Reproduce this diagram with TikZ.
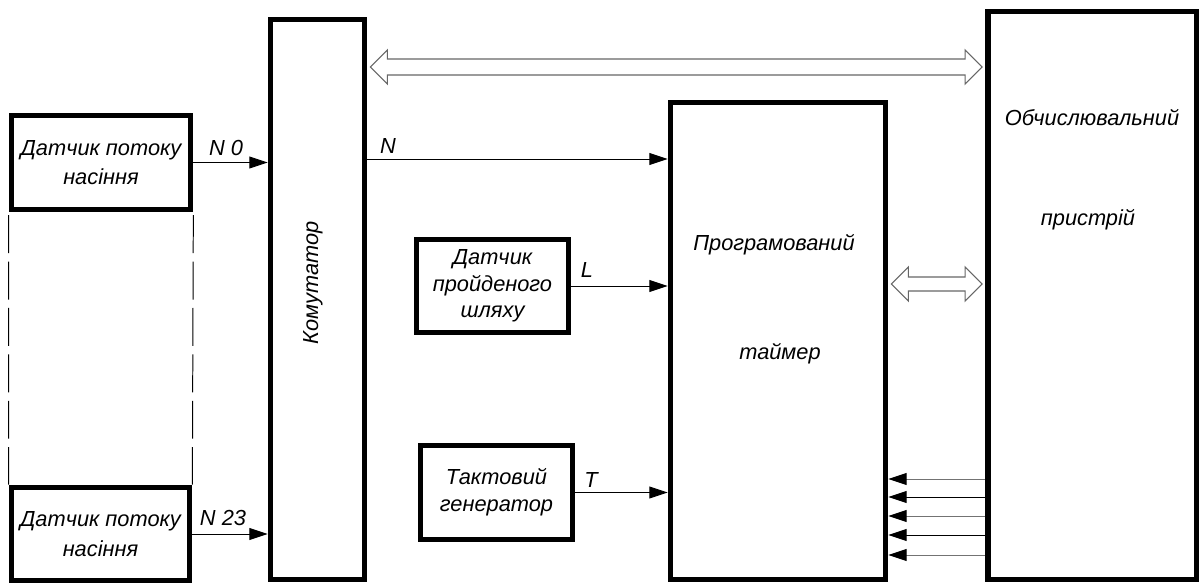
\documentclass[tikz,border=0pt]{standalone}
\usepackage{fontspec}
\setmainfont{Liberation Sans}
\usetikzlibrary{arrows.meta,calc}

\tikzset{
  block/.style={draw, line width=4pt, inner sep=0pt, align=center},
  sig/.style={-{Triangle[length=13pt,width=8.5pt,color=black]}, line width=0.7pt, black},
  bus/.style={draw=black!60, line width=0.8pt, fill=white},
  divider/.style={black, line width=0.7pt, dash pattern=on 27pt off 6pt},
}

\begin{document}
\begin{tikzpicture}[x=0.025cm, y=-0.025cm,
    every node/.style={font=\itshape\fontsize{15.5}{18}\selectfont}]
  \useasboundingbox (0,0) rectangle (1199,585);

  % Seed flow sensors
  \node[block, minimum width=4.475cm, minimum height=2.35cm,
        font=\itshape\fontsize{15.5}{21}\selectfont] (s1) at (101,162.5) {Датчик потоку\\насіння};
  \node[block, minimum width=4.45cm, minimum height=2.325cm,
        font=\itshape\fontsize{15.5}{21}\selectfont] (s2) at (100.5,534) {Датчик потоку\\насіння};
  \draw[divider] ([yshift=-2pt]s1.south west) -- (s2.north west);
  \draw[divider] ([yshift=-2pt]s1.south east) -- (s2.north east);

  % Switch
  \node[block, minimum width=2.35cm, minimum height=14cm] (komut) at (317.5,299.5) {};
  \node[rotate=90] (komut-txt) at (313,283) {Комутатор};

  % Path sensor and clock generator
  \node[block, minimum width=3.8cm, minimum height=2.325cm,
        font=\itshape\fontsize{15.5}{19}\selectfont] (path) at (492.5,286) {Датчик\\пройденого\\шляху};
  \node[block, minimum width=3.8cm, minimum height=2.35cm,
        font=\itshape\fontsize{15.5}{19}\selectfont] (gen) at (496.5,492.5) {Тактовий\\генератор};

  % Programmable timer
  \node[block, minimum width=5.375cm, minimum height=11.925cm] (timer) at (778,341) {};
  \node (timer-t1) at (774,245) {Програмований};
  \node (timer-t2) at (780,354) {таймер};

  % Computing device
  \node[block, minimum width=5.225cm, minimum height=14.2cm] (comp) at (1092.5,295.5) {};
  \node (comp-t1) at (1092,118) {Обчислювальний};
  \node (comp-t2) at (1088,220) {пристрій};

  % Signal lines
  \draw[sig] (s1.east) -- (s1.east -| komut.west);
  \node (lbl-n0) at (226,148) {N 0};
  \draw[sig] (s2.east) -- (s2.east -| komut.west);
  \node (lbl-n23) at (223,518) {N 23};
  \draw[sig] (komut.east |- 0,159) -- (timer.west |- 0,159);
  \node (lbl-n) at (388,146) {N};
  \draw[sig] (path.east) -- (path.east -| timer.west);
  \node (lbl-l) at (587,270) {L};
  \draw[sig] (gen.east) -- (gen.east -| timer.west);
  \node (lbl-t) at (591,480) {T};
  \foreach \y/\c in {479/black!55, 497/black, 516/black!55, 535/black, 555/black!55}
    \draw[sig, \c] (comp.west |- 0,\y) -- (timer.east |- 0,\y);

  % Data buses
  \coordinate (busA) at ($(komut.east |- 0,67)+(3,0)$);
  \coordinate (busB) at ($(comp.west |- 0,67)+(-3,0)$);
  \draw[bus] (busA) -- ++(17,-17) -- ++(0,9) -- ($(busB)+(-17,-8)$) -- ++(0,-9)
    -- (busB) -- ++(-17,17) -- ++(0,-9) -- ($(busA)+(17,8)$) -- ++(0,9) -- cycle;
  \coordinate (busC) at ($(timer.east |- 0,284)+(3,0)$);
  \coordinate (busD) at ($(comp.west |- 0,284)+(-3,0)$);
  \draw[bus] (busC) -- ++(17,-17) -- ++(0,10) -- ($(busD)+(-17,-7)$) -- ++(0,-10)
    -- (busD) -- ++(-17,17) -- ++(0,-10) -- ($(busC)+(17,7)$) -- ++(0,10) -- cycle;
\end{tikzpicture}
\end{document}
